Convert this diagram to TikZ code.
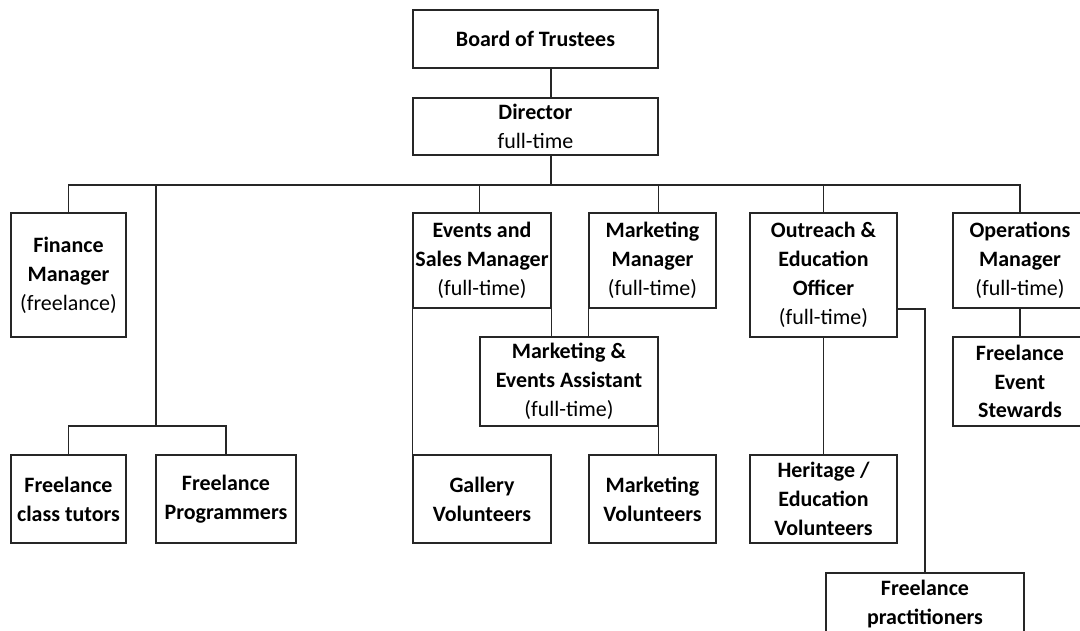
\documentclass[tikz,border=0pt]{standalone}
\usepackage{fontspec}
\setmainfont{Carlito}
\usetikzlibrary{positioning}
\tikzset{
  box/.style={draw=black!85, line width=0.8pt, align=center, inner sep=0pt,
    font=\fontsize{12.5}{16.4}\selectfont\bfseries},
  link/.style={draw=black!85, line width=0.8pt},
}
\newcommand{\stat}[1]{\mdseries #1}
\begin{document}
\begin{tikzpicture}[x=0.02cm, y=-0.02cm]
\clip (0,0) rectangle (1080,630);
% Top
\node[box, minimum width=4.9cm, minimum height=1.16cm] (board) at (535.5,39) {Board of Trustees};
\node[box, minimum width=4.9cm, minimum height=1.14cm] (dir) at (535.5,126.5) {Director\\\stat{full-time}};

% Managers
\node[box, minimum width=2.3cm, minimum height=2.48cm] (fin) at (68.5,275) {Finance\\Manager\\\stat{(freelance)}};
\node[box, minimum width=2.76cm, minimum height=1.9cm] (esm) at (482,260.5) {Events and\\Sales Manager\\\stat{(full-time)}};
\node[box, minimum width=2.54cm, minimum height=1.9cm] (mm) at (652.5,260.5) {Marketing\\Manager\\\stat{(full-time)}};
\node[box, line width=1.2pt, minimum width=2.94cm, minimum height=2.48cm] (oeo) at (823.5,275) {Outreach \&\\Education\\Officer\\\stat{(full-time)}};
\node[box, minimum width=2.68cm, minimum height=1.9cm] (ops) at (1020,260.5) {Operations\\Manager\\\stat{(full-time)}};

% Second row
\node[box, minimum width=3.56cm, minimum height=1.78cm] (mea) at (569,381.5) {Marketing \&\\Events Assistant\\\stat{(full-time)}};
\node[box, minimum width=2.68cm, minimum height=1.78cm] (fes) at (1020,381.5) {Freelance\\Event\\Stewards};

% Bottom row
\node[box, minimum width=2.3cm, minimum height=1.76cm] (fct) at (68.5,499) {Freelance\\class tutors};
\node[box, minimum width=2.8cm, minimum height=1.76cm] (fp) at (226,499) {Freelance\\Programmers};
\node[box, minimum width=2.76cm, minimum height=1.76cm] (gv) at (482,499) {Gallery\\Volunteers};
\node[box, minimum width=2.54cm, minimum height=1.76cm] (mv) at (652.5,499) {Marketing\\Volunteers};
\node[box, minimum width=2.94cm, minimum height=1.76cm] (hev) at (823.5,499) {Heritage /\\Education\\Volunteers};
\node[box, minimum width=3.96cm, minimum height=1.24cm] (fpr) at (925,604) {Freelance\\practitioners};

% Connectors
\coordinate (top) at (551,185);
\coordinate (sub) at (156,426);
\draw[link] (board.south -| top) -- (dir.north -| top);
\draw[link] (dir.south -| top) -- (top);
\draw[link] (fin.north) |- (top) -| (ops.north);
\draw[link] (esm.north -| mea.west) -- (top -| mea.west);
\draw[link] (mm.north -| mea.east) -- (top -| mea.east);
\draw[link] (oeo.north) -- (oeo.north |- top);
\draw[link] (sub |- top) -- (sub);
\draw[link] (fct.north) |- (sub) -| (fp.north);
\draw[link] (esm.south east) -- (esm.south east |- mea.north);
\draw[link] (mm.south west) -- (mm.south west |- mea.north);
\draw[link] (esm.south west) -- (gv.north west);
\draw[link] (mea.south east) -- (mea.south east |- mv.north);
\draw[link] (oeo.south) -- (hev.north);
\draw[link, line width=1.2pt] (oeo.east |- esm.south) -| (fpr.north);
\draw[link] (ops.south) -- (fes.north);
\end{tikzpicture}
\end{document}
